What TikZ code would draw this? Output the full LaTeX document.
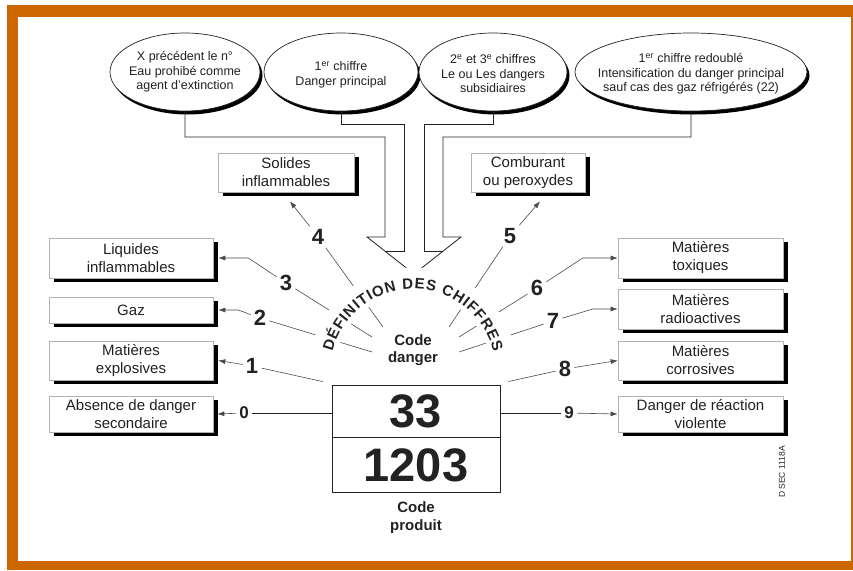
\documentclass[tikz,border=0pt]{standalone}
\usepackage{fontspec}
\setmainfont{Liberation Sans}
\usetikzlibrary{positioning, calc, arrows.meta, shapes.geometric, shadows, decorations.text}
\definecolor{Frame}{HTML}{CC6600}
\definecolor{Ink}{HTML}{222222}
\definecolor{Wire}{HTML}{4A4A4A}
\tikzset{
    bubble/.style={ellipse, draw=Ink, line width=0.7pt, fill=white, minimum height=78pt, inner sep=0pt, drop shadow={shadow xshift=2.5pt, shadow yshift=-3.5pt, fill=black, opacity=1}},
    bubbletext/.style={align=center, font=\fontsize{12.5}{14.5}\selectfont, text=Ink},
    hazard/.style={rectangle, draw=gray!60, line width=0.6pt, fill=white, align=center, minimum width=164pt, inner sep=0pt, font=\fontsize{15}{18}\selectfont, text=Ink, drop shadow={shadow xshift=5pt, shadow yshift=-4pt, fill=black, opacity=1}},
    digit/.style={font=\bfseries\fontsize{22}{22}\selectfont, text=Ink, inner sep=3pt},
    smalldigit/.style={font=\bfseries\fontsize{17}{17}\selectfont, text=Ink, inner sep=3pt},
    link/.style={draw=Wire, line width=0.6pt},
    pointer/.style={link, -{Latex[length=7pt, width=5pt]}},
    codecell/.style={rectangle, draw=Ink, line width=0.9pt, minimum width=168pt, inner sep=0pt, font=\bfseries\fontsize{47}{47}\selectfont, text=Ink},
    channel/.style={draw=Ink, line width=0.8pt},
    caption/.style={align=center, font=\bfseries\fontsize{15}{17}\selectfont, text=Ink},
}
\begin{document}
\begin{tikzpicture}[x=1pt, y=-1pt]
    % cadre
    \fill[white] (0,0) rectangle (853,570);
    \fill[Frame] (7,5) rectangle (853,570);
    \fill[white] (18,17) rectangle (851,561);
    \useasboundingbox (0,0) rectangle (853,570);

    % bulles du haut
    \node[bubble, minimum width=150pt] (b1) at (185,72) {};
    \node[bubbletext] (t1) at (b1.center) {X précédent le n°\\Eau prohibé comme\\agent d'extinction};
    \node[bubble, minimum width=154pt] (b2) at (341,72) {};
    \node[bubbletext] (t2) at ([yshift=-3pt]b2.center) {1\textsuperscript{er} chiffre\\Danger principal};
    \node[bubble, minimum width=148pt] (b3) at (493,72) {};
    \node[bubbletext] (t3) at ([yshift=-2pt]b3.center) {2\textsuperscript{e} et 3\textsuperscript{e} chiffres\\Le ou Les dangers\\subsidiaires};
    \node[bubble, minimum width=232pt] (b4) at (691,72) {};
    \node[bubbletext] (t4) at ([yshift=-2pt]b4.center) {1\textsuperscript{er} chiffre redoublé\\Intensification du danger principal\\sauf cas des gaz réfrigérés (22)};

    % grande flèche double
    \draw[channel] (b1.south) |- (385,137) -- (385,237) -- (367,237) -- (414,274) -- (461,237) -- (443,237) -- (443,137) -| (b4.south);
    \draw[channel] (b2.south) |- (404,124) -- (404,251) -- (385,251);
    \draw[channel] (b3.south) |- (424,124) -- (424,251) -- (443,251);

    % cases des dangers
    \node[hazard, minimum width=136pt, minimum height=39pt] (sol) at (286,172.5) {Solides\\inflammables};
    \node[hazard, minimum width=114pt, minimum height=39pt] (com) at (528,172.5) {Comburant\\ou peroxydes};
    \node[hazard, minimum height=40pt] (liq) at (131,258) {Liquides\\inflammables};
    \node[hazard, minimum height=26pt] (gaz) at (131,310) {Gaz};
    \node[hazard, minimum height=39pt] (exp) at (131,360.5) {Matières\\explosives};
    \node[hazard, minimum height=36pt] (abs) at (131,414) {Absence de danger\\secondaire};
    \node[hazard, minimum width=165pt, minimum height=40pt] (tox) at (700.5,258) {Matières\\toxiques};
    \node[hazard, minimum width=165pt, minimum height=40pt] (rad) at (700.5,309) {Matières\\radioactives};
    \node[hazard, minimum width=165pt, minimum height=39pt] (cor) at (700.5,360.5) {Matières\\corrosives};
    \node[hazard, minimum width=165pt, minimum height=36pt] (vio) at (700.5,414) {Danger de réaction\\violente};

    % plaque orange
    \node[codecell, minimum height=52pt] (top) at (416,411) {33};
    \node[codecell, minimum height=55pt, below=0pt of top] (bot) {1203};
    \node[caption] (cd) at (413,350) {Code\\danger};
    \node[caption, font=\bfseries\fontsize{15}{18}\selectfont] (cp) at (416,518) {Code\\produit};
    \node[rotate=90, font=\fontsize{8.5}{9}\selectfont, text=Ink] (ref) at (782,472) {D SEC 1118A};

    % chiffres
    \node[smalldigit] (n0) at (244,413) {0};
    \node[digit] (n1) at (252,366) {1};
    \node[digit] (n2) at (260,318) {2};
    \node[digit] (n3) at (286,283) {3};
    \node[digit] (n4) at (318,237) {4};
    \node[digit] (n5) at (510,236) {5};
    \node[digit] (n6) at (537,288) {6};
    \node[digit] (n7) at (553,321) {7};
    \node[digit] (n8) at (565,369) {8};
    \node[smalldigit] (n9) at (569,413) {9};

    \coordinate (c2) at (372,352);
    \coordinate (c3) at (372,337);
    \coordinate (c4) at (383,327);
    \coordinate (c5) at (449,327);
    \coordinate (c6) at (459,337);
    \coordinate (c7) at (459,352);

    % rayons vers le code danger
    \draw[link] (n1) -- ([shift={(-9,-3)}]top.north west);
    \draw[link] (n2) -- (c2);
    \draw[link] (n3) -- (c3);
    \draw[link] (n4) -- (c4);
    \draw[link] (n5) -- (c5);
    \draw[link] (n6) -- (c6);
    \draw[link] (n7) -- (c7);
    \draw[link] (n8) -- ([shift={(8,-3)}]top.north east);
    \draw[link, draw=Ink] (n0 -| top.west) -- (n0);
    \draw[link, draw=Ink] (top.east |- n9) -- (n9);

    % flèches vers les cases
    \draw[pointer] (n0) -- ([xshift=4pt]abs.east);
    \draw[pointer] (n1) -- ([xshift=5pt]exp.east);
    \draw[pointer] (n2) -- ([xshift=25pt]gaz.east) -- ([xshift=5pt]gaz.east);
    \draw[pointer] (n3) -- ([xshift=35pt]liq.east) -- ([xshift=5pt]liq.east);
    \draw[pointer] (n4) -- ([shift={(4,9)}]sol.south);
    \draw[pointer] (n5) -- ([shift={(12,9)}]com.south);
    \draw[pointer] (n6) -- ([xshift=-35pt]tox.west) -- (tox.west);
    \draw[pointer] (n7) -- ([xshift=-25pt]rad.west) -- (rad.west);
    \draw[pointer] (n8) -- (cor.west);
    \draw[pointer] (n9) -- (vio.west);

    % texte en arc
    \draw[white, line width=26pt] ($(413,372)+(192:91.5)$) arc (192:348:91.5);
    \path[decorate, decoration={text along path, text align={fit to path},
        text={|\bfseries\fontsize{15}{15}\selectfont\color{Ink}|DÉFINITION DES CHIFFRES}}]
        ($(413,372)+(194:83)$) arc (194:346:83);
\end{tikzpicture}
\end{document}
